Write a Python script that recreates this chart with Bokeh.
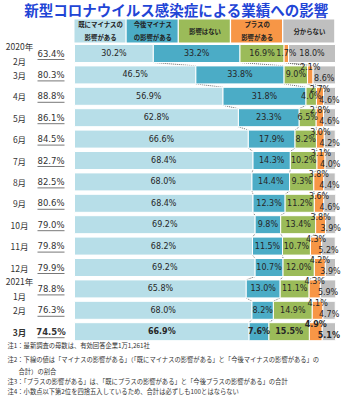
import numpy as np
from bokeh.plotting import figure
from bokeh.models import Range1d, ColumnDataSource
from bokeh.core.properties import value
from bokeh.embed import file_html
from bokeh.resources import INLINE

# ---------------- data ----------------
periods = ["2020年\n2月", "3月", "4月", "5月", "6月", "7月", "8月", "9月", "10月",
           "11月", "12月", "2021年\n1月", "2月", "3月"]
negative_total = [63.4, 80.3, 88.8, 86.1, 84.5, 82.7, 82.5, 80.6, 79.0, 79.8, 79.9, 78.8, 76.3, 74.5]
already_negative = [30.2, 46.5, 56.9, 62.8, 66.6, 68.4, 68.0, 68.4, 69.2, 68.2, 69.2, 65.8, 68.0, 66.9]
future_negative = [33.2, 33.8, 31.8, 23.3, 17.9, 14.3, 14.4, 12.3, 9.8, 11.5, 10.7, 13.0, 8.2, 7.6]
no_effect = [16.9, 9.0, 4.0, 6.5, 8.2, 10.2, 9.3, 11.2, 13.4, 10.7, 12.0, 11.1, 14.9, 15.5]
positive = [1.7, 2.1, 2.7, 2.8, 3.0, 3.1, 3.8, 3.6, 3.8, 4.3, 4.2, 4.3, 4.1, 4.9]
unknown = [18.0, 8.6, 4.6, 4.6, 4.2, 4.0, 4.4, 4.6, 3.9, 5.2, 3.9, 5.9, 4.7, 5.1]

series_names = ["既にマイナスの\n影響がある", "今後マイナス\nの影響がある", "影響はない",
                "プラスの\n影響がある", "分からない"]
colors = ["#b7dee8", "#4bacc6", "#9bbb59", "#f79646", "#bfbfbf"]

title = "新型コロナウイルス感染症による業績への影響"
notes = [
    "注1：最新調査の母数は、有効回答企業1万1,261社",
    "注2：下線の値は「マイナスの影響がある」（「既にマイナスの影響がある」と「今後マイナスの影響がある」の",
    "合計）の割合",
    "注3：「プラスの影響がある」は、「既にプラスの影響がある」と「今後プラスの影響がある」の合計",
    "注4：小数点以下第2位を四捨五入しているため、合計は必ずしも100とはならない",
]

# ---------------- layout ----------------
W, H = 341, 398
SX = 2.61          # px per percentage point
X0PX = 74          # px position of 0%
PITCH = 21.4       # px per row
Y0PX = 53          # px position of first row centre
x_start = -X0PX / SX
x_end = x_start + W / SX
y_top = -Y0PX / PITCH
y_bot = y_top + H / PITCH


def X(px):
    return x_start + px / SX


def Y(py):
    return y_top + py / PITCH


JP = value("Noto Sans CJK JP")
NUM = value("DejaVu Sans")

p = figure(width=W, height=H, x_range=Range1d(x_start, x_end), y_range=Range1d(y_bot, y_top),
           output_backend="svg", toolbar_location=None, min_border=0,
           min_border_left=0, min_border_right=0, min_border_top=0, min_border_bottom=0)
p.axis.visible = False
p.grid.visible = False
p.outline_line_color = None
p.background_fill_color = "white"
p.border_fill_color = "white"

rows = np.arange(len(periods))
n = len(rows)
series = [already_negative, future_negative, no_effect, positive, unknown]
vals = np.array(series, dtype=float)
cum = np.vstack([np.zeros(n), np.cumsum(vals, axis=0)])

bar_h = 18 / PITCH

# dotted connectors between consecutive rows
for k in range(1, 5):
    xs = cum[k]
    p.segment(x0=xs[:-1], y0=rows[:-1] + bar_h / 2, x1=xs[1:], y1=rows[1:] - bar_h / 2,
              line_color="#404040", line_dash="1 1", line_width=0.8)

# bars
for k in range(5):
    p.hbar(y=rows, left=cum[k], right=cum[k + 1], height=bar_h,
           fill_color=colors[k], line_color="white", line_width=1)

styles = ["bold" if i == n - 1 else "normal" for i in range(n)]

# labels inside bars
for k in range(5):
    centers = (cum[k] + cum[k + 1]) / 2
    labels = [f"{v:.1f}%" for v in series[k]]
    if k == 3:
        offs = [0 if unknown[i] >= 10 else -7 for i in range(n)]
    elif k == 4:
        offs = [0 if unknown[i] >= 10 else 4 for i in range(n)]
    else:
        offs = [0] * n
    src = ColumnDataSource(dict(x=centers, y=rows + np.array(offs) / PITCH, t=labels, s=styles))
    p.text(x="x", y="y", text="t", source=src, text_font=NUM, text_font_size="8px",
           text_font_style="s", text_color="#262626", text_align="center", text_baseline="middle")

# period labels
src_p = ColumnDataSource(dict(x=[X(19)] * n, y=rows, t=periods, s=styles))
p.text(x="x", y="y", text="t", source=src_p, text_font=JP, text_font_size="8.5px",
       text_font_style="s", text_color="#333333", text_align="center", text_baseline="middle",
       text_line_height=1.25)

# negative totals (underlined)
src_t = ColumnDataSource(dict(x=[X(50.5)] * n, y=rows, t=[f"{v:.1f}%" for v in negative_total], s=styles))
p.text(x="x", y="y", text="t", source=src_t, text_font=NUM, text_font_size="8.5px",
       text_font_style="s", text_color="#333333", text_align="center", text_baseline="middle")
p.segment(x0=[X(37)] * n, y0=rows + 6 / PITCH, x1=[X(64)] * n, y1=rows + 6 / PITCH,
          line_color="#555555", line_width=0.8)

# header legend boxes
hl = np.arange(5) * 20.0
p.quad(left=hl, right=hl + 20 - 0.5, top=Y(19), bottom=Y(42), fill_color=colors, line_color=None)
p.text(x=hl + 10, y=[Y(30.5)] * 5, text=series_names, text_font=JP, text_font_size="6.4px",
       text_font_style="bold", text_color="#222222", text_align="center", text_baseline="middle",
       text_line_height=1.45)

# title
p.text(x=[X(176)], y=[Y(8.5)], text=[title], text_font=JP, text_font_size="14.5px",
       text_font_style="bold", text_color="#1f45d6", text_align="center", text_baseline="middle")

# notes
note_x = [X(7), X(7), X(18), X(7), X(7)]
note_y = [Y(345), Y(359), Y(371), Y(381), Y(391)]
p.text(x=note_x, y=note_y, text=notes, text_font=JP, text_font_size="6.3px",
       text_color="#333333", text_align="left", text_baseline="middle")

open("out.html", "w").write(file_html(p, INLINE))
